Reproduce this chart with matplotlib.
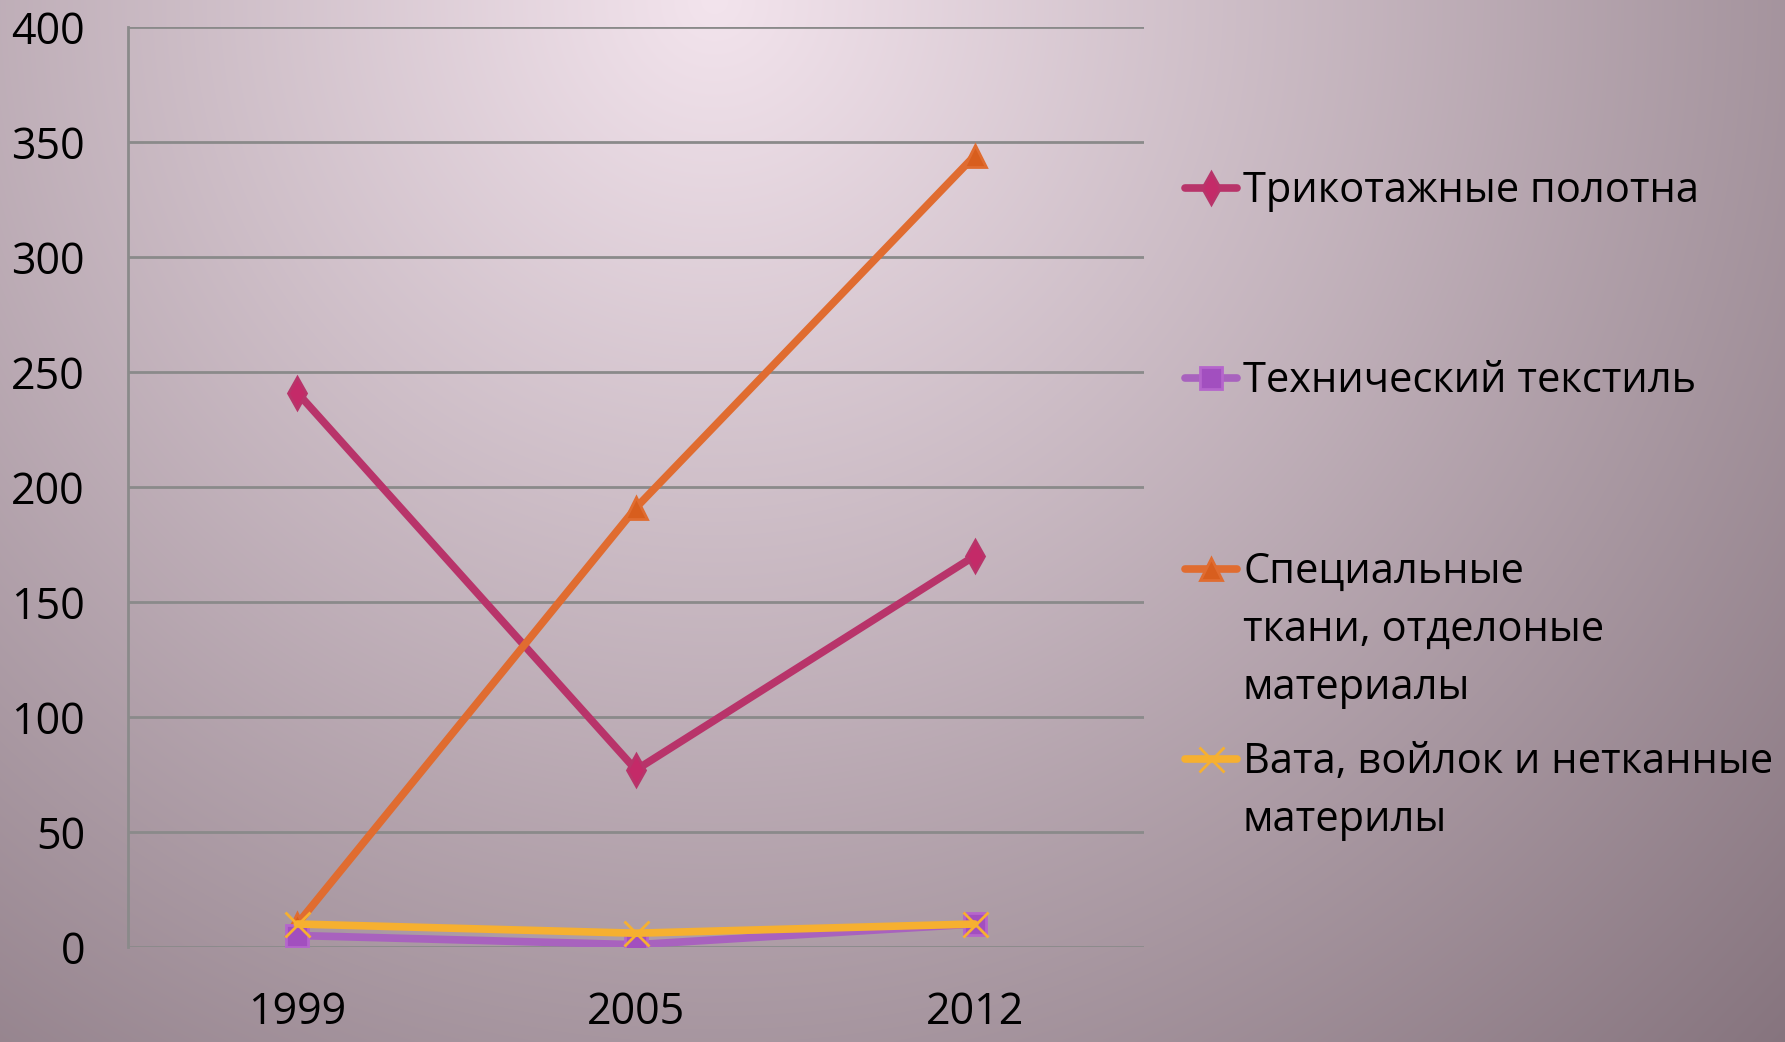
import numpy as np
import matplotlib
matplotlib.use("Agg")
import matplotlib.pyplot as plt
from matplotlib.lines import Line2D

years = ["1999", "2005", "2012"]
series_names = ["Трикотажные полотна", "Технический текстиль",
                "Специальные\nткани, отделоные\nматериалы",
                "Вата, войлок и нетканные\nматерилы"]
knit = [241, 77, 170]
tech = [5, 1, 10]
special = [10, 191, 344]
wool = [10, 6, 10]
yticks = [0, 50, 100, 150, 200, 250, 300, 350, 400]

plt.rcParams['font.family'] = ['Open Sans', 'DejaVu Sans']

W, H = 1785, 1042
fig = plt.figure(figsize=(W / 100, H / 100), dpi=100)

# radial gradient background
bg = fig.add_axes([0, 0, 1, 1])
yy, xx = np.mgrid[0:H, 0:W]
cx, cy = 0.40 * W, 0.0
d = np.sqrt((xx - cx) ** 2 + (yy - cy) ** 2) / 1550.0
d = np.clip(d, 0, 1)
light = np.array([243, 228, 237]) / 255
dark = np.array([130, 112, 122]) / 255
img = light[None, None, :] * (1 - d[..., None]) + dark[None, None, :] * d[..., None]
bg.imshow(img, aspect='auto', extent=[0, 1, 0, 1], origin='upper')
bg.axis('off')

ax = fig.add_axes([128 / W, 1 - 947 / H, (1144 - 128) / W, (947 - 27) / H])
ax.patch.set_alpha(0)
x = np.arange(len(years)) + 0.5

styles = [
    (knit, '#b8346a', 'd', '#c42a68', '#b8346a', 16),
    (tech, '#a862be', 's', '#a24fbf', '#b565cc', 16),
    (special, '#e06c30', '^', '#d85e1e', '#e06c30', 16),
    (wool, '#f6b030', 'x', '#f6b030', '#f6b030', 18),
]
order = [0, 2, 1, 3]
for i in order:
    vals, lc, mk, mc, me, ms = styles[i]
    ax.plot(x, vals, color=lc, lw=5.5, marker=mk, markersize=ms,
            markerfacecolor=mc, markeredgecolor=me,
            markeredgewidth=2, solid_capstyle='round',
            zorder=3 + (i == 3))

ax.set_xlim(0, 3)
ax.set_ylim(0, 400)
ax.set_yticks(yticks)
ax.set_xticks(x)
ax.set_xticklabels(years)
ax.yaxis.grid(True, color='#8a8a8a', lw=2)
ax.set_axisbelow(True)
for s in ['top', 'right', 'bottom']:
    ax.spines[s].set_visible(False)
ax.spines['left'].set_color('#8a8a8a')
ax.spines['left'].set_linewidth(2)
ax.tick_params(axis='both', length=0, labelsize=31, colors='black')
ax.tick_params(axis='y', pad=31)
ax.tick_params(axis='x', pad=31)

# legend (manual, Excel-like)
leg_y = [188, 378, 569, 759]
for i, yl in enumerate(leg_y):
    vals, lc, mk, mc, me, ms = styles[i]
    yf = 1 - yl / H
    ln = Line2D([1185 / W, 1237 / W], [yf, yf], transform=fig.transFigure,
                color=lc, lw=5.5, solid_capstyle='round')
    fig.add_artist(ln)
    mkr = Line2D([1211 / W], [yf], transform=fig.transFigure, marker=mk,
                 markersize=ms, markerfacecolor=mc, markeredgecolor=me,
                 markeredgewidth=2, lw=0)
    fig.add_artist(mkr)
    fig.text(1243 / W, yf + 18 / H, series_names[i], fontsize=30, va='top',
             ha='left', linespacing=1.5, color='black')

fig.savefig("out.png", dpi=100)
